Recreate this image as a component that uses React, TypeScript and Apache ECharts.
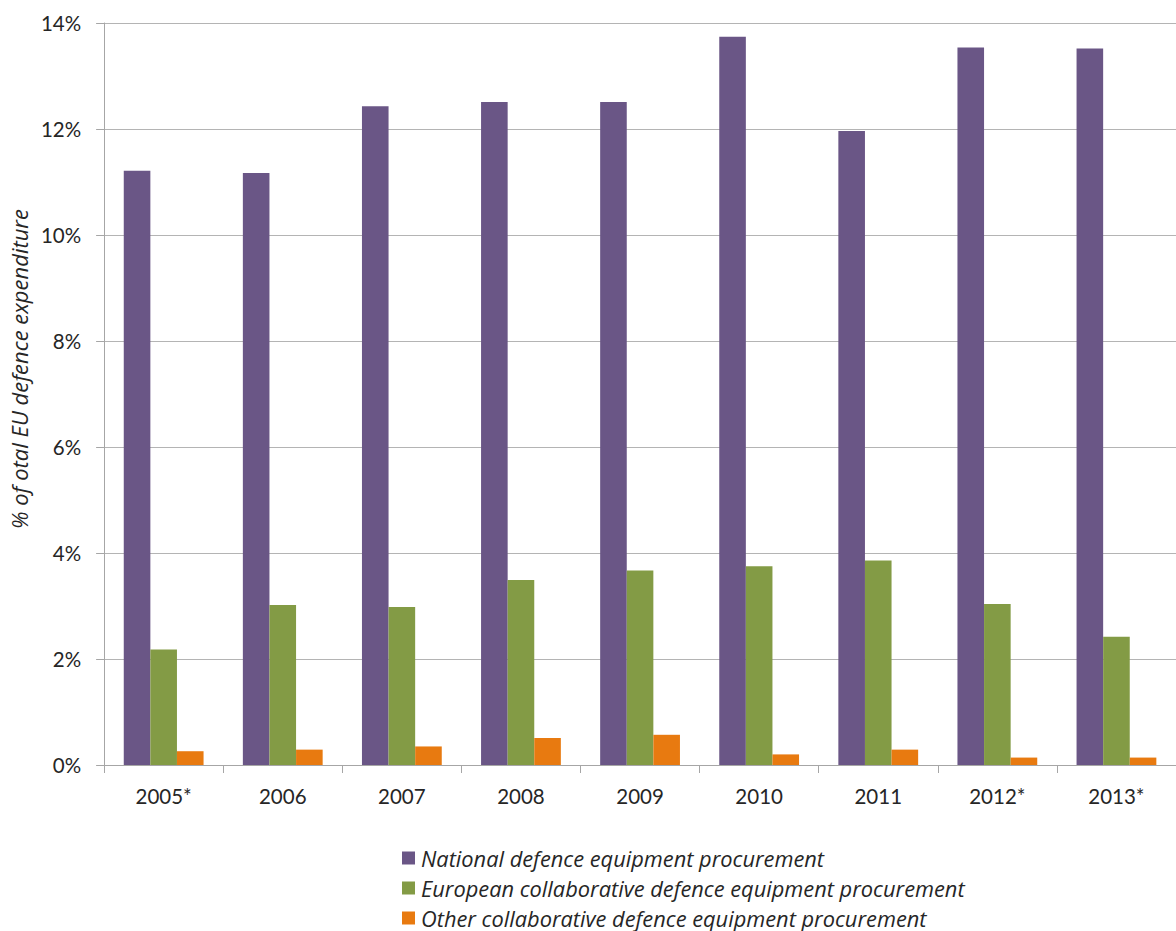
import React, { useEffect, useRef } from "react";
import * as echarts from "echarts";

const categories = ["2005*", "2006", "2007", "2008", "2009", "2010", "2011", "2012*", "2013*"];
const nationalValues = [11.21, 11.17, 12.43, 12.51, 12.51, 13.74, 11.96, 13.54, 13.52];
const europeanValues = [2.18, 3.02, 2.98, 3.49, 3.67, 3.75, 3.86, 3.04, 2.42];
const otherValues = [0.26, 0.29, 0.35, 0.51, 0.57, 0.2, 0.29, 0.14, 0.14];
const seriesNames = [
  "National defence equipment procurement",
  "European collaborative defence equipment procurement",
  "Other collaborative defence equipment procurement",
];
const yAxisTitle = "% of otal EU defence expenditure";

const FONT = "Lato, 'Open Sans', sans-serif";
const ITALIC_FONT = "'Open Sans', Lato, sans-serif";

export default function App() {
  const ref = useRef<HTMLDivElement>(null);
  useEffect(() => {
    if (!ref.current) return;
    const chart = echarts.init(ref.current, undefined, { renderer: "svg" });
    const barStyle = (color: string) => ({ color });
    chart.setOption({
      animation: false,
      backgroundColor: "#ffffff",
      textStyle: { fontFamily: FONT },
      grid: { left: 103, right: 0, top: 23, bottom: 166, containLabel: false },
      legend: {
        orient: "vertical",
        left: 397,
        top: 841,
        height: 120,
        padding: 5,
        itemWidth: 13,
        itemHeight: 13,
        itemGap: 6,
        icon: "rect",
        textStyle: {
          fontFamily: ITALIC_FONT,
          fontStyle: "italic",
          fontSize: 21.8,
          color: "#262626",
          lineHeight: 24,
          padding: [0, 0, 0, 1],
        },
        data: seriesNames,
      },
      xAxis: {
        type: "category",
        data: categories,
        axisLine: { show: true, lineStyle: { color: "#a6a6a6", width: 1 } },
        axisTick: { show: true, length: 8, lineStyle: { color: "#a6a6a6" } },
        axisLabel: { fontSize: 20.5, color: "#262626", margin: 20, fontFamily: FONT },
      },
      yAxis: {
        type: "value",
        min: 0,
        max: 14,
        interval: 2,
        name: yAxisTitle,
        nameLocation: "middle",
        nameGap: 71,
        nameTextStyle: {
          fontFamily: ITALIC_FONT,
          fontStyle: "italic",
          fontSize: 22,
          color: "#262626",
          padding: [0, 0, 0, 50],
        },
        axisLine: { show: true, lineStyle: { color: "#a6a6a6", width: 1 } },
        axisTick: { show: true, length: 8, lineStyle: { color: "#a6a6a6" } },
        axisLabel: {
          formatter: "{value}%",
          fontSize: 20.5,
          color: "#262626",
          margin: 23,
          fontFamily: FONT,
        },
        splitLine: { show: true, lineStyle: { color: "#b4b4b4", width: 1 } },
      },
      series: [
        {
          name: seriesNames[0],
          type: "bar",
          data: nationalValues,
          itemStyle: barStyle("#6a5686"),
          barGap: "0%",
          barCategoryGap: "33%",
        },
        {
          name: seriesNames[1],
          type: "bar",
          data: europeanValues,
          itemStyle: barStyle("#839b45"),
          barGap: "0%",
          barCategoryGap: "33%",
        },
        {
          name: seriesNames[2],
          type: "bar",
          data: otherValues,
          itemStyle: barStyle("#e87a10"),
          barGap: "0%",
          barCategoryGap: "33%",
        },
      ],
    });
    return () => chart.dispose();
  }, []);
  return (
    <div
      ref={ref}
      style={{ position: "fixed", left: 0, top: 0, width: 1176, height: 931 }}
    />
  );
}
